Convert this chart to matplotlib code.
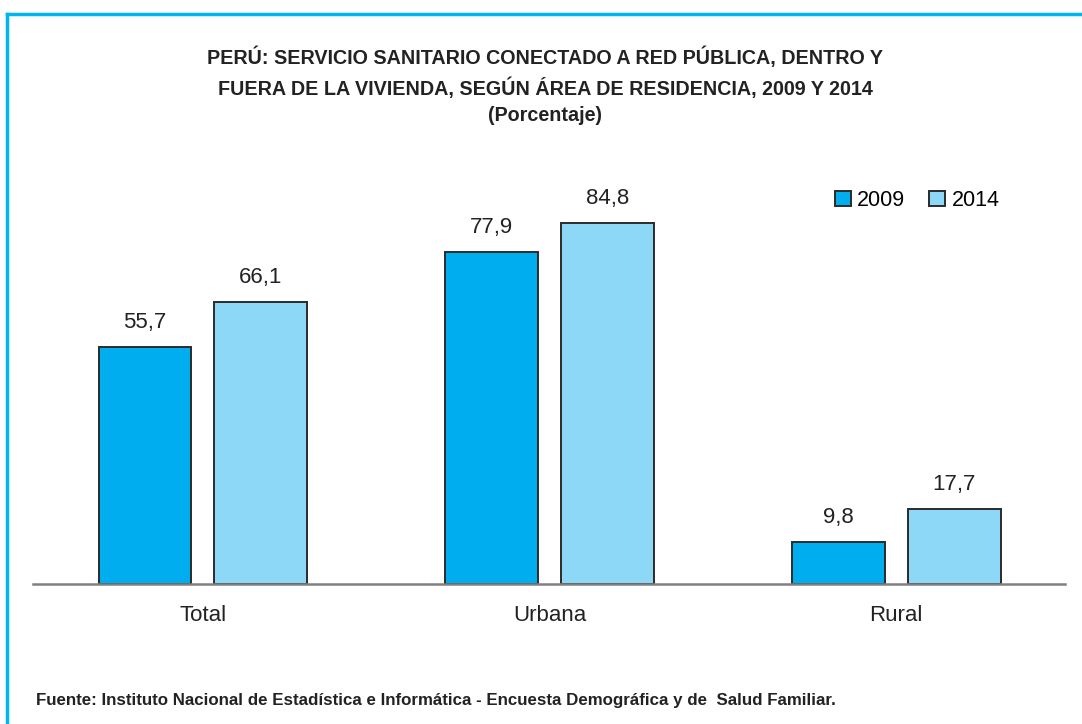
import matplotlib.pyplot as plt
import numpy as np
from matplotlib.lines import Line2D

plt.rcParams['font.family'] = ['Liberation Sans Narrow', 'Liberation Sans', 'DejaVu Sans']

categories = ['Total', 'Urbana', 'Rural']
years = ['2009', '2014']
values_2009 = [55.7, 77.9, 9.8]
values_2014 = [66.1, 84.8, 17.7]

c2009 = '#00AEEF'
c2014 = '#8DD8F6'
edge = '#2b2b2b'

fig = plt.figure(figsize=(10.82, 7.24), dpi=100)
ax = fig.add_axes([0.0305, 0.1934, 0.9538, 0.5884])

x = np.arange(len(categories))
w = 0.268
off = 0.167
b1 = ax.bar(x - off, values_2009, w, color=c2009, edgecolor=edge, linewidth=1.4, label=years[0])
b2 = ax.bar(x + off, values_2014, w, color=c2014, edgecolor=edge, linewidth=1.4, label=years[1])

for bars, vals in ((b1, values_2009), (b2, values_2014)):
    for b, v in zip(bars, vals):
        ax.text(b.get_x() + b.get_width() / 2, v + 3.3, f'{v:.1f}'.replace('.', ','),
                ha='center', va='bottom', fontsize=16, color='#222222')

ax.set_xlim(-0.49, 2.487)
ax.set_ylim(0, 100)
ax.set_xticks(x)
ax.set_xticklabels(categories, fontsize=16, color='#222222')
ax.tick_params(axis='x', length=0, pad=15)
ax.set_yticks([])
for s in ['top', 'right', 'left']:
    ax.spines[s].set_visible(False)
ax.spines['bottom'].set_color('#808080')
ax.spines['bottom'].set_linewidth(1.8)

ax.legend(loc='upper right', bbox_to_anchor=(0.945, 0.945), ncol=2, frameon=False,
          fontsize=15.5, handlelength=0.75, handleheight=0.75, handletextpad=0.3,
          columnspacing=1.1, borderaxespad=0)
for h in ax.get_legend().legend_handles:
    h.set_edgecolor(edge)

title_lines = ['PERÚ: SERVICIO SANITARIO CONECTADO A RED PÚBLICA, DENTRO Y',
               'FUERA DE LA VIVIENDA, SEGÚN ÁREA DE RESIDENCIA, 2009 Y 2014',
               '(Porcentaje)']
for txt, yy in zip(title_lines, [0.921, 0.8785, 0.840]):
    fig.text(0.504, yy, txt, ha='center', va='center', fontsize=14.2,
             fontweight='bold', color='#222222')
fig.text(0.033, 0.033, 'Fuente: Instituto Nacional de Estadística e Informática - '
         'Encuesta Demográfica y de  Salud Familiar.', ha='left', va='center',
         fontsize=12.2, fontweight='bold', color='#222222')

# marco superior e izquierdo
fig.add_artist(Line2D([0.0065, 1.0], [0.981, 0.981], color='#00B6F0', lw=2.5,
                      transform=fig.transFigure))
fig.add_artist(Line2D([0.0065, 0.0065], [0.0, 0.981], color='#00B6F0', lw=2.5,
                      transform=fig.transFigure))

fig.savefig('out.png', dpi=100)
